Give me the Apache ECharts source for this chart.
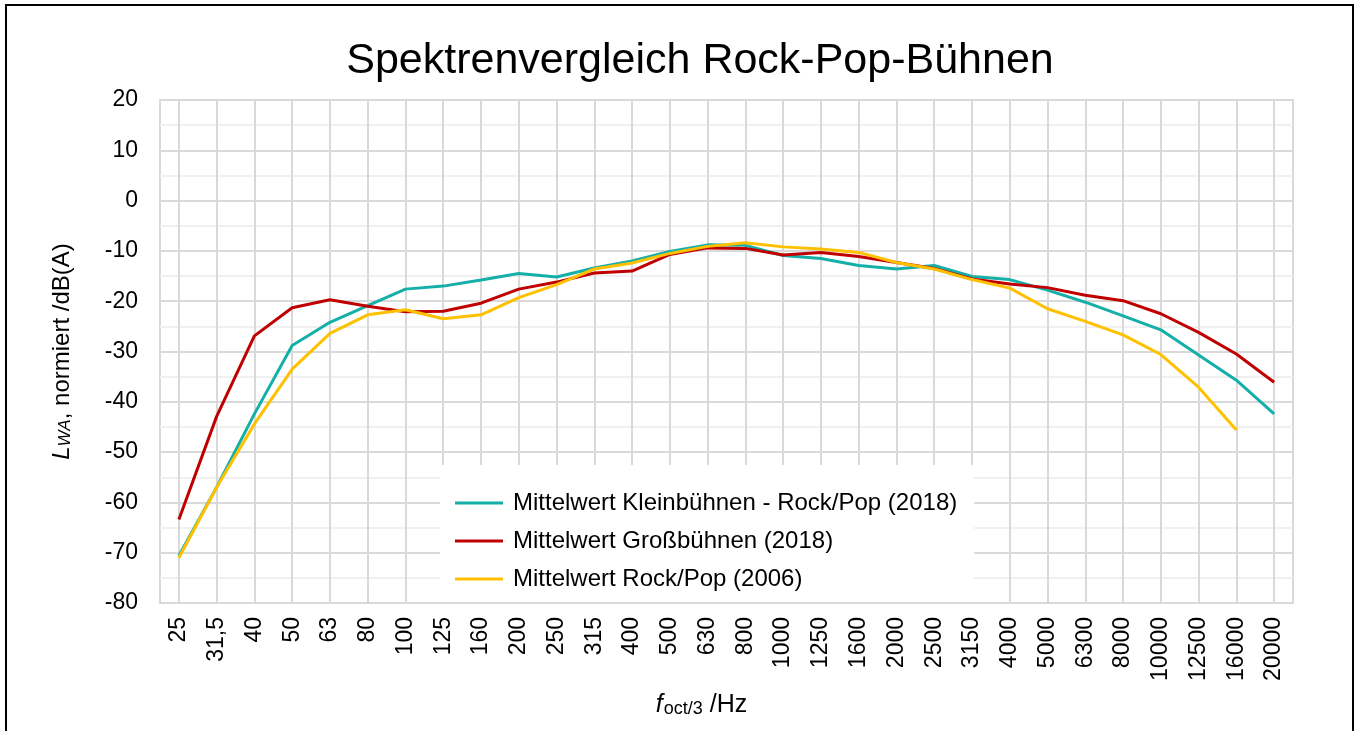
<!DOCTYPE html>
<html>
<head>
<meta charset="utf-8">
<title>Spektrenvergleich Rock-Pop-Bühnen</title>
<script src="https://cdn.jsdelivr.net/npm/echarts@6/dist/echarts.min.js"></script>
<style>
  html, body { margin: 0; padding: 0; background: #fff; }
  #chart { width: 1355px; height: 731px; }
</style>
</head>
<body>
<div id="chart"></div>
<script>
// Terzband-Mittenfrequenzen
var freqs = ['25', '31,5', '40', '50', '63', '80', '100', '125', '160', '200', '250', '315', '400', '500', '630',
  '800', '1000', '1250', '1600', '2000', '2500', '3150', '4000', '5000', '6300', '8000', '10000', '12500', '16000', '20000'];

var seriesNames = ['Mittelwert Kleinbühnen - Rock/Pop (2018)', 'Mittelwert Großbühnen (2018)', 'Mittelwert Rock/Pop (2006)'];

var kleinbuehnen2018 = [-70.6, -57.0, -42.4, -28.8, -24.2, -20.9, -17.6, -17.0, -15.8, -14.5, -15.2, -13.4, -12.0, -10.1, -8.8,
  -8.9, -10.9, -11.5, -12.9, -13.6, -12.9, -15.1, -15.7, -17.8, -20.2, -22.9, -25.7, -30.7, -35.7, -42.4];
var grossbuehnen2018 = [-63.4, -42.9, -26.9, -21.3, -19.7, -21.0, -22.1, -22.0, -20.4, -17.6, -16.2, -14.4, -14.0, -10.7, -9.4,
  -9.5, -10.8, -10.3, -11.1, -12.3, -13.5, -15.6, -16.6, -17.3, -18.8, -19.9, -22.5, -26.2, -30.5, -36.1];
var rockpop2006 = [-71.0, -57.0, -44.4, -33.5, -26.4, -22.7, -21.7, -23.5, -22.7, -19.3, -16.7, -13.6, -12.4, -10.5, -9.1,
  -8.4, -9.2, -9.6, -10.3, -12.3, -13.6, -15.7, -17.4, -21.5, -24.0, -26.7, -30.6, -37.1, -45.6, null];

var colors = ['#14afa9', '#c00000', '#ffc000'];
var font = '"Liberation Sans", Arial, sans-serif';

var chart = echarts.init(document.getElementById('chart'), null, { renderer: 'canvas' });

function lineSeries(name, data, color) {
  return {
    name: name,
    type: 'line',
    data: data,
    symbol: 'none',
    lineStyle: { color: color, width: 3 },
    itemStyle: { color: color }
  };
}

chart.setOption({
  animation: false,
  color: colors,
  title: {
    text: 'Spektrenvergleich Rock-Pop-Bühnen',
    left: 695,
    textAlign: 'center',
    top: 35,
    textStyle: { fontFamily: font, fontSize: 43, fontWeight: 'normal', color: '#000' }
  },
  graphic: [{
    type: 'rect',
    shape: { x: 6, y: 5, width: 1347, height: 740 },
    style: { fill: 'none', stroke: '#000', lineWidth: 2 },
    silent: true
  }],
  legend: {
    orient: 'vertical',
    left: 440,
    top: 465,
    padding: [26, 17, 11, 15],
    backgroundColor: '#fff',
    itemGap: 14,
    itemWidth: 48,
    itemHeight: 3,
    icon: 'rect',
    textStyle: { fontFamily: font, fontSize: 24, color: '#000', lineHeight: 24, padding: [0, 0, 0, 5] },
    data: seriesNames
  },
  grid: {
    left: 160,
    top: 100,
    right: 62,
    bottom: 128,
    show: true,
    borderColor: '#d9d9d9',
    borderWidth: 2,
    containLabel: false
  },
  xAxis: {
    type: 'category',
    data: freqs,
    boundaryGap: true,
    name: '{i|f}{sub|oct/3}{n| /Hz}',
    nameLocation: 'middle',
    nameGap: 81,
    nameTextStyle: {
      padding: [0, 50, 0, 0],
      rich: {
        i: { fontFamily: font, fontSize: 25, fontStyle: 'italic', color: '#000', lineHeight: 25, verticalAlign: 'top' },
        sub: { fontFamily: font, fontSize: 18, color: '#000', lineHeight: 18, padding: [11, 0, 0, 1], verticalAlign: 'bottom' },
        n: { fontFamily: font, fontSize: 25, color: '#000', lineHeight: 25, verticalAlign: 'top' }
      }
    },
    axisLine: { show: false },
    axisTick: { show: false },
    axisLabel: { interval: 0, rotate: 90, margin: 14, fontFamily: font, fontSize: 23, color: '#000' },
    splitLine: { show: true, alignWithLabel: true, lineStyle: { color: '#d9d9d9', width: 2 } }
  },
  yAxis: {
    type: 'value',
    min: -80,
    max: 20,
    interval: 10,
    name: '{i|L}{sub|WA}{n|, normiert /dB(A)}',
    nameLocation: 'middle',
    nameRotate: 90,
    nameGap: 86,
    nameTextStyle: {
      rich: {
        i: { fontFamily: font, fontSize: 24, fontStyle: 'italic', color: '#000', lineHeight: 24, verticalAlign: 'top' },
        sub: { fontFamily: font, fontSize: 17, fontStyle: 'italic', color: '#000', lineHeight: 17, padding: [11, 0, 0, 0], verticalAlign: 'bottom' },
        n: { fontFamily: font, fontSize: 24, color: '#000', lineHeight: 24, verticalAlign: 'top' }
      }
    },
    axisLine: { show: false },
    axisTick: { show: false },
    axisLabel: { margin: 22, fontFamily: font, fontSize: 23, color: '#000' },
    splitLine: { show: true, lineStyle: { color: '#d9d9d9', width: 2 } },
    minorTick: { show: false, splitNumber: 2 },
    minorSplitLine: { show: true, lineStyle: { color: '#f0f0f0', width: 2 } }
  },
  series: [
    lineSeries(seriesNames[0], kleinbuehnen2018, colors[0]),
    lineSeries(seriesNames[1], grossbuehnen2018, colors[1]),
    lineSeries(seriesNames[2], rockpop2006, colors[2])
  ]
});

window.addEventListener('resize', function() { chart.resize(); });
</script>
</body>
</html>
